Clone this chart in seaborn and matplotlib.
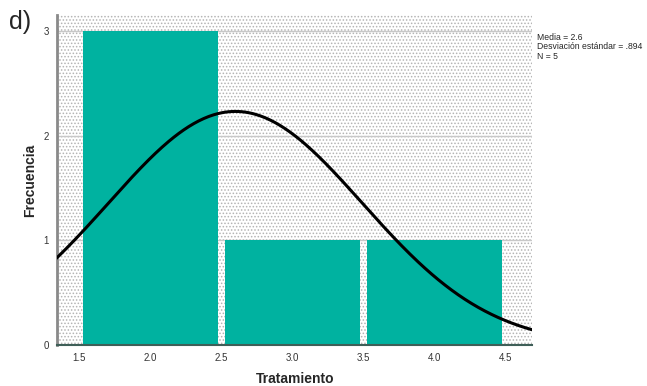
import numpy as np
import seaborn as sns
import matplotlib.pyplot as plt
from matplotlib.patches import Rectangle

# Data (Tratamiento scores, N = 5)
tratamiento = [2, 2, 2, 3, 4]
bin_edges = [1.5, 2.5, 3.5, 4.5]
x_ticks = [1.5, 2.0, 2.5, 3.0, 3.5, 4.0, 4.5]
y_ticks = [0, 1, 2, 3]

media = np.mean(tratamiento)
desv = np.std(tratamiento, ddof=1)
n = len(tratamiento)

sns.set_style("white")
plt.rcParams['font.family'] = ['Liberation Sans', 'DejaVu Sans']
plt.rcParams['hatch.linewidth'] = 0.7

fig = plt.figure(figsize=(6.47, 3.86), dpi=100)
ax = fig.add_axes([0.088, 0.106, 0.735, 0.855])

# dotted background
bg = Rectangle((0, 0), 1, 1, transform=ax.transAxes, facecolor='white',
               edgecolor='#b4b4b4', linewidth=0, hatch='.....', zorder=0)
ax.add_patch(bg)

for y in y_ticks[1:]:
    ax.axhline(y, color='#c8c8c8', lw=1.0, zorder=1)

sns.histplot(x=tratamiento, bins=bin_edges, color='#00b2a0', alpha=1,
             edgecolor='none', linewidth=0, shrink=0.95, ax=ax, zorder=2)

# normal curve scaled to counts
xs = np.linspace(1.3, 4.8, 300)
pdf = np.exp(-0.5 * ((xs - media) / desv) ** 2) / (desv * np.sqrt(2 * np.pi))
ax.plot(xs, n * 1.0 * pdf, color='black', lw=2.2, zorder=3)

ax.set_xlim(1.345, 4.69)
ax.set_ylim(0, 3.15)
ax.set_xticks(x_ticks)
ax.set_xticklabels([f"{v:.1f}" for v in x_ticks], fontsize=7, color='#333333')
ax.set_yticks(y_ticks)
ax.set_yticklabels([str(v) for v in y_ticks], fontsize=7, color='#333333')
ax.tick_params(axis='both', length=0, pad=6)

for s in ['top', 'right']:
    ax.spines[s].set_visible(False)
ax.spines['left'].set_color('#8a8a8a')
ax.spines['left'].set_linewidth(2)
ax.spines['bottom'].set_color('#3f5f58')
ax.spines['bottom'].set_linewidth(1.5)

ax.set_xlabel("Tratamiento", fontsize=10, fontweight='bold')
ax.set_ylabel("Frecuencia", fontsize=10, fontweight='bold')
ax.xaxis.set_label_coords(0.5, -0.083)
ax.yaxis.set_label_coords(-0.042, 0.5)

fig.text(0.014, 0.925, "d)", fontsize=18)
fig.text(0.830, 0.915,
         f"Media = {media:.1f}\nDesviación estándar = {desv:.3f}".replace("0.", ".")
         + f"\nN = {n}",
         fontsize=6.2, va='top', linespacing=1.05)

fig.savefig("out.png", dpi=100)
